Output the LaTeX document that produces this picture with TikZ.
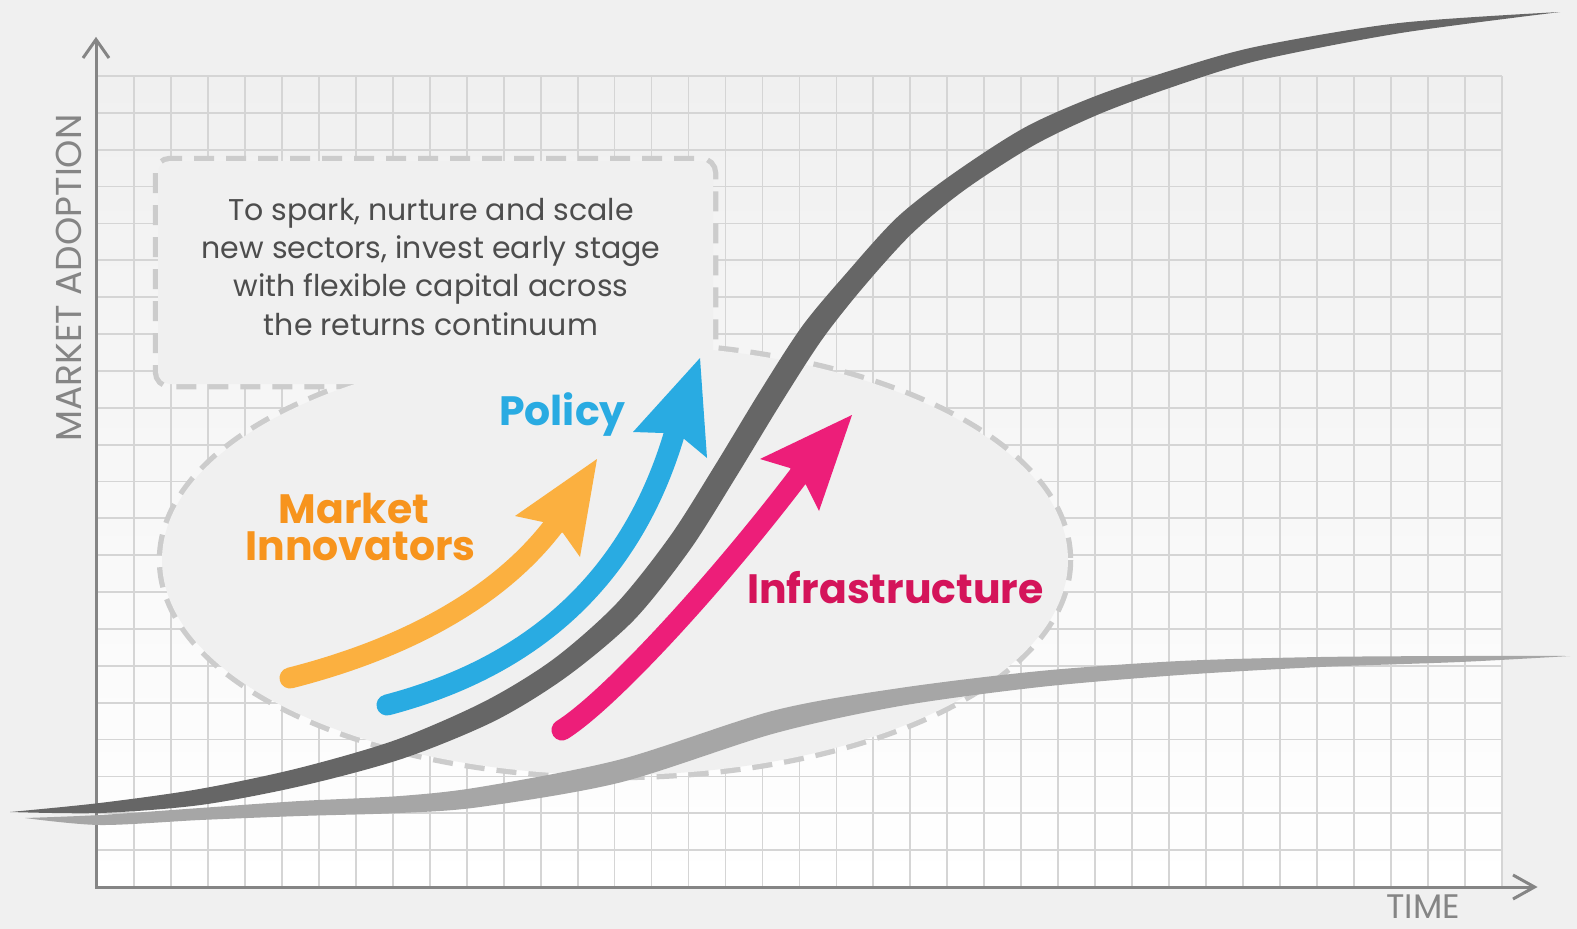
\documentclass[tikz,border=0pt]{standalone}
\usepackage{fontspec}
\setmainfont{Poppins}
\definecolor{bg}{HTML}{F0F0F0}
\definecolor{gridc}{HTML}{D5D5D5}
\definecolor{axisc}{HTML}{858585}
\definecolor{dashc}{HTML}{CCCCCC}
\definecolor{darkc}{HTML}{666666}
\definecolor{lightc}{HTML}{A6A6A6}
\definecolor{orangeA}{HTML}{FBB040}
\definecolor{orangeT}{HTML}{F7941D}
\definecolor{blueA}{HTML}{29ABE2}
\definecolor{pinkA}{HTML}{ED1E79}
\definecolor{pinkT}{HTML}{D4145A}
\definecolor{boxtext}{HTML}{4D4D4D}
\begin{document}
\begin{tikzpicture}[x=1pt,y=-1pt,
  gridline/.style={gridc,line width=1.8},
  axisline/.style={axisc,line width=3},
  dashline/.style={dashc,line width=10.5,dash pattern=on 20pt off 12pt},
  shaft/.style={line width=21,line cap=round},
  boxline/.style={anchor=base,text=boxtext,font=\fontsize{30}{36}\selectfont,inner sep=0},
  biglabel/.style={anchor=base,font=\fontsize{41}{41}\selectfont\bfseries,inner sep=0},
  axislabel/.style={anchor=base,text=axisc,font=\fontsize{36}{36}\selectfont,inner sep=0}]
\useasboundingbox (0,0) rectangle (1577,929);
\fill[bg] (0,0) rectangle (1577,929);
% grid
\shade[top color=bg,bottom color=white] (97,76) rectangle (1502,887);
\foreach \i in {0,...,38} \draw[gridline] ({97+\i*36.97},76) -- ({97+\i*36.97},887);
\foreach \j in {0,...,22} \draw[gridline] (97,{76+\j*36.864}) -- (1502,{76+\j*36.864});
% axes
\draw[axisline] (96,888) -- (96,41);
\draw[axisline] (83,58) -- (96,39.5) -- (109,58);
\draw[axisline] (95,887) -- (1533,887);
\draw[axisline] (1513,875) -- (1534.5,887) -- (1513,899);
% callout
\draw[dashline] (615,560) ellipse [x radius=453, y radius=215];
\draw[dashline,rounded corners=12] (158,161) rectangle (713,384);
\fill[bg] (615,560) ellipse [x radius=453, y radius=215];
\fill[bg,rounded corners=12] (158,161) rectangle (713,384);
% light curve
\fill[lightc] plot[smooth] coordinates {(25,818) (100,815) (200,808) (300,801) (400,796) (480,787) (620,759.5) (774,710.5) (900,688) (1040,671) (1180,661) (1320,657) (1460,656) (1570,656)}
  -- plot[smooth] coordinates {(1570,656) (1460,662) (1320,667) (1180,675) (1040,687) (900,706) (774,733.5) (620,782.5) (480,807) (400,813) (300,816) (200,820) (100,825) (25,818)} -- cycle;
% dark curve
\fill[darkc] plot[smooth] coordinates {(10,812) (99.6,803) (198.8,789.1) (297.9,768.3) (396.7,739.6) (485,701.2) (553.5,659.1) (616.3,603.7) (670.2,536) (714.8,465.7) (759.8,391.6) (802.3,326) (846.7,272.8) (897.5,217) (954.2,172.9) (1025.2,127.2) (1096.7,95.6) (1177.6,68.4) (1258.5,46.2) (1399.3,23) (1560,12)}
  -- plot[smooth] coordinates {(1560,12) (1400.7,33) (1261.5,59.8) (1182.4,83.6) (1103.3,112.4) (1034.8,144.8) (965.8,189.1) (912.5,233) (863.3,287.2) (821.7,340) (780.2,404.4) (735.2,478.3) (689.8,550) (633.7,620.3) (566.5,676.9) (495,720.8) (403.3,758.4) (302.1,785.8) (201.2,804.9) (100.4,813) (10,812)} -- cycle;
% orange arrow
\draw[shaft,orangeA] (290,678) .. controls (400,650) and (500,600) .. (558,520);
\fill[orangeA] (597,459) -- (515,516) -- (543,522) -- (563,533) -- (580,557) -- cycle;
% blue arrow
\draw[shaft,blueA] (387,705) .. controls (520,670) and (630,590) .. (676,428);
\fill[blueA] (700,358) -- (633,432) -- (663,433) -- (683,438) -- (707,458) -- cycle;
% pink arrow
\draw[shaft,pinkA] (562,730) .. controls (610,700) and (720,580) .. (803,470);
\fill[pinkA] (852,415) -- (760,459) -- (790,468) -- (806,485) -- (819,511) -- cycle;
% texts
\node[boxline] (t1) at (431,220) {To spark, nurture and scale};
\node[boxline] (t2) at (431,258.3) {new sectors, invest early stage};
\node[boxline] (t3) at (431,296.7) {with flexible capital across};
\node[boxline] (t4) at (431,335) {the returns continuum};
\node[biglabel,text=orangeT] (mk) at (354,523) {Market};
\node[biglabel,text=orangeT] (inn) at (360.5,560) {Innovators};
\node[biglabel,text=blueA] (pol) at (562.5,425) {Policy};
\node[biglabel,text=pinkT] (inf) at (895.4,603) {Infrastructure};
\node[axislabel,rotate=90] (ya) at (81.7,278) {MARKET ADOPTION};
\node[axislabel,font=\fontsize{34}{34}\selectfont] (xa) at (1423,918) {TIME};
\end{tikzpicture}
\end{document}
